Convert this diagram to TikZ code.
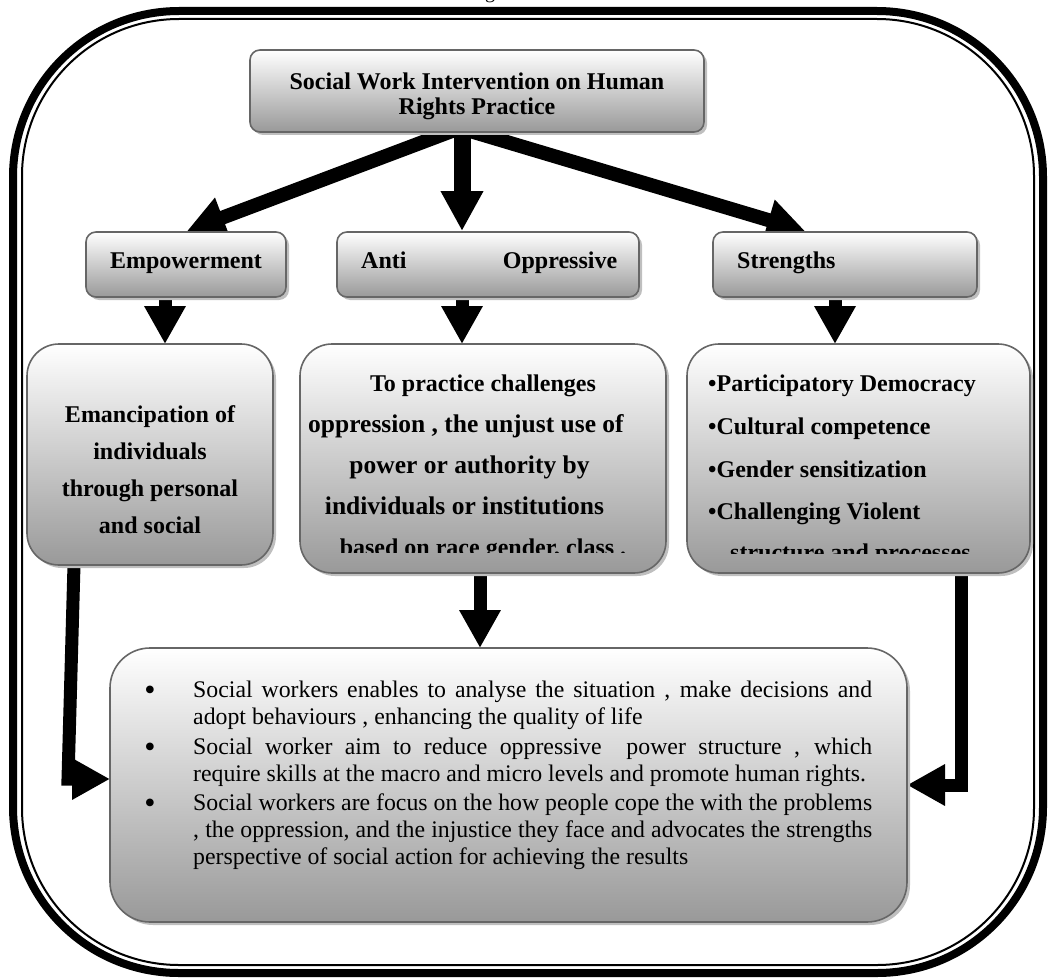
\documentclass[tikz,border=0pt]{standalone}
\usepackage{fontspec}
\setmainfont{Liberation Serif}
\usetikzlibrary{arrows.meta,shadows,calc}
\pgfdeclarelayer{bg}
\pgfsetlayers{bg,main}
\begin{document}
\begin{tikzpicture}[x=1pt,y=-1pt,
  boxbase/.style={draw=black!60, line width=1.6pt, top color=white, bottom color=black!40,
    anchor=north west, inner sep=0pt, outer sep=0pt,
    drop shadow={shadow xshift=3pt, shadow yshift=-3pt, fill=black!25, opacity=1}},
  smallbox/.style={boxbase, rounded corners=10pt},
  bigbox/.style={boxbase, rounded corners=32pt},
  botbox/.style={boxbase, rounded corners=40pt},
  btxt/.style={font=\fontsize{24}{27}\selectfont\bfseries, inner sep=0pt, anchor=base},
  bbtxt/.style={font=\fontsize{25.5}{27}\selectfont\bfseries, inner sep=0pt, anchor=base},
  rtxt/.style={font=\fontsize{23.8}{27}\selectfont, inner sep=0pt, anchor=base west},
  bultxt/.style={font=\fontsize{32}{27}\selectfont, inner sep=0pt, anchor=base},
  fatarrow/.style={line width=13pt, -{Triangle[width=39pt,length=38pt]}, line join=miter},
  widearrow/.style={line width=17pt, -{Triangle[width=40pt,length=40pt]}},
  diagarrow/.style={line width=14pt, -{Triangle[width=40pt,length=38pt]}},
  frameouter/.style={line width=8pt, rounded corners=166pt},
  frameinner/.style={line width=2pt, rounded corners=157pt},
]
\useasboundingbox (0,0) rectangle (1049,979);

% clipped caption fragment above the frame
\node[font=\fontsize{20}{24}\selectfont, inner sep=0pt, anchor=base] (figcap) at (490,-1) {g};

% boxes
\node[smallbox, minimum width=454pt, minimum height=82pt] (title) at (250,50) {};
\node[smallbox, minimum width=200pt, minimum height=65pt] (emp) at (86,232) {};
\node[smallbox, minimum width=302pt, minimum height=65pt] (anti) at (337,232) {};
\node[smallbox, minimum width=264pt, minimum height=65pt] (str) at (713,232) {};
\node[bigbox, minimum width=246pt, minimum height=221pt] (eman) at (27,344) {};
\node[bigbox, minimum width=366pt, minimum height=229pt] (anti2) at (300,344) {};
\node[bigbox, minimum width=343pt, minimum height=229pt] (str2) at (687,344) {};
\node[botbox, minimum width=797pt, minimum height=274pt] (bot) at (110,648) {};

% frame and connectors behind the boxes
\begin{pgfonlayer}{bg}
\draw[frameouter] (13,11) rectangle (1043,973);
\draw[frameinner] (22,19) rectangle (1034,965);

\coordinate (a0) at ($(title.south)+(-17,-4)$);
\coordinate (a1) at ($(emp.north)+(1,-1)$);
\coordinate (a2s) at ($(title.south)+(-15,-4)$);
\coordinate (a2) at ($(anti.north)+(-26,-1)$);
\coordinate (a3) at ($(str.north)+(-40,-1)$);
\draw[diagarrow] (a0) -- (a1);
\draw[diagarrow] (a0) -- (a3);
\draw[widearrow] (a2s) -- (a2);

\coordinate (d1) at ($(emp.south)+(-21,0)$);
\coordinate (d2) at ($(anti.south)+(-26,0)$);
\coordinate (d3) at ($(str.south)+(-10,0)$);
\draw[fatarrow] (d1) -- (d1 |- eman.north);
\draw[fatarrow] (d2) -- (d2 |- anti2.north);
\draw[fatarrow] (d3) -- (d3 |- str2.north);

\coordinate (l0) at ($(eman.south)+(-76,0)$);
\coordinate (l2) at ($(bot.west)+(0,-6)$);
\coordinate (l1) at ($(l2)+(-42,0)$);
\draw[fatarrow] (l0) -- (l1) -- (l2);

\coordinate (r0) at ($(str2.south)+(102.5,0)$);
\coordinate (r2) at (bot.east);
\draw[fatarrow] (r0) -- (r0 |- r2) -- (r2);

\coordinate (m0) at ($(anti2.south)+(-3,0)$);
\draw[fatarrow] (m0) -- (m0 |- bot.north);
\end{pgfonlayer}

% texts
\node[btxt] (tt1) at (477,90) {Social Work Intervention on Human};
\node[btxt] (tt2) at (477,114) {Rights Practice};
\node[btxt] (te) at (186,268) {Empowerment};
\node[btxt, anchor=base west] (ta) at (361,268) {\makebox[256pt][s]{Anti Oppressive}};
\node[btxt, anchor=base west] (ts) at (737,268) {Strengths};

\node[btxt] (em1) at (150,422) {Emancipation of};
\node[btxt] (em2) at (150,459) {individuals};
\node[btxt] (em3) at (150,496) {through personal};
\node[btxt] (em4) at (150,533) {and social};

\begin{scope}
\clip (300,340) rectangle (666,552);
\node[btxt] (an1) at (483,391) {To practice challenges};
\node[bbtxt] (an2) at (466,432) {oppression , the unjust use of};
\node[bbtxt] (an3) at (469.5,473) {power or authority by};
\node[bbtxt] (an4) at (464.5,514) {individuals or institutions};
\node[btxt] (an5) at (483,555) {based on race gender, class .};
\end{scope}

\begin{scope}
\clip (687,340) rectangle (1030,553);
\node[btxt, anchor=base west] (st1) at (708,391) {•Participatory Democracy};
\node[btxt, anchor=base west] (st2) at (708,434) {•Cultural competence};
\node[btxt, anchor=base west] (st3) at (708,477) {•Gender sensitization};
\node[btxt, anchor=base west] (st4) at (708,519) {•Challenging Violent};
\node[btxt, anchor=base west] (st5) at (730,560) {structure and processes};
\end{scope}

\node[bultxt] (b1) at (150,700) {\textbullet};
\node[bultxt] (b2) at (150,757) {\textbullet};
\node[bultxt] (b3) at (150,813) {\textbullet};
\node[rtxt] (p1) at (193,697) {\makebox[679pt][s]{Social workers enables to analyse the situation , make decisions and}};
\node[rtxt] (p2) at (193,724) {adopt behaviours , enhancing the quality of life};
\node[rtxt] (p3) at (193,754) {\makebox[679pt][s]{Social worker aim to reduce oppressive\ \ power structure , which}};
\node[rtxt] (p4) at (193,781) {require skills at the macro and micro levels and promote human rights.};
\node[rtxt] (p5) at (193,810) {\makebox[679pt][s]{Social workers are focus on the how people cope the with the problems}};
\node[rtxt] (p6) at (193,837) {\makebox[679pt][s]{, the oppression, and the injustice they face and advocates the strengths}};
\node[rtxt] (p7) at (193,864) {perspective of social action for achieving the results};
\end{tikzpicture}
\end{document}
